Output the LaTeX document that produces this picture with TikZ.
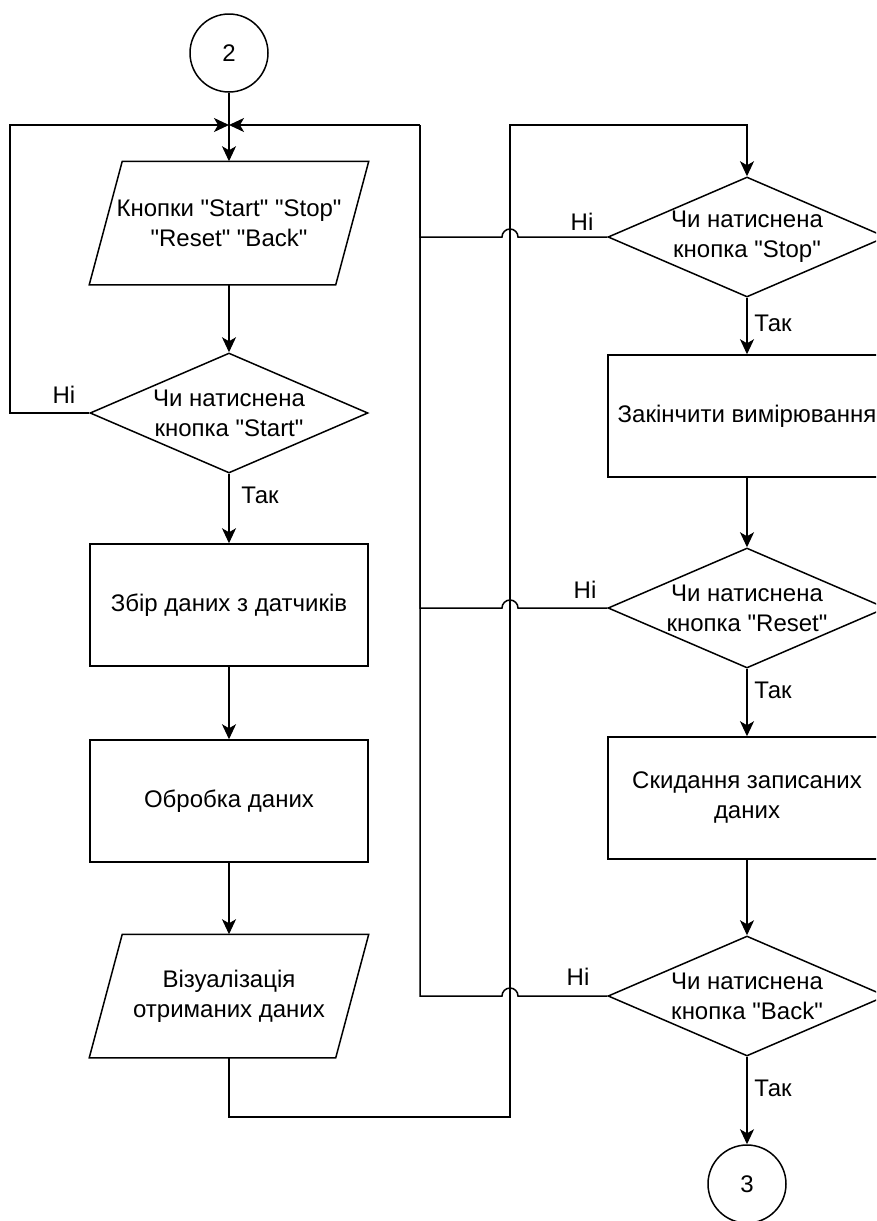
\documentclass[tikz,border=0pt]{standalone}
\usepackage{fontspec}
\setmainfont{Liberation Sans}[Ligatures=TeXOff]
\usetikzlibrary{shapes.geometric,arrows.meta}
\begin{document}
\begin{tikzpicture}[x=1pt,y=-1pt,line width=1.5pt,
  every node/.style={font=\fontsize{24}{30}\selectfont},
  proc/.style={draw,rectangle,minimum width=278pt,minimum height=122pt,align=center,inner sep=0pt},
  io/.style={rectangle,minimum width=278pt,minimum height=122pt,align=center,inner sep=0pt},
  decision/.style={draw,diamond,minimum width=278pt,minimum height=120pt,inner sep=0pt,
    label={[align=center,inner sep=0pt]center:#1}},
  connector/.style={draw,circle,minimum size=78pt,inner sep=0pt},
  lbl/.style={inner sep=0pt},
  arr/.style={-{Stealth[length=15pt,width=14pt,inset=4pt]}}]
\useasboundingbox (0,0) rectangle (876,1221);
\clip (0,0) rectangle (876,1221);

% left column
\node[connector] (c2) at (229,53) {2};
\node[io] (in1) at (229,223) {Кнопки "Start" "Stop"\\"Reset" "Back"};
\node[decision={Чи натиснена\\кнопка "Start"}] (dStart) at (229,413) {};
\node[proc] (p1) at (229,605) {Збір даних з датчиків};
\node[proc] (p2) at (229,801) {Обробка даних};
\node[io] (out1) at (229,996) {Візуалізація\\отриманих даних};

% data (parallelogram) outlines
\foreach \n in {in1,out1}
  \draw ([xshift=33pt]\n.north west) -- (\n.north east)
    -- ([xshift=-33pt]\n.south east) -- (\n.south west) -- cycle;

% right column
\node[decision={Чи натиснена\\кнопка "Stop"}] (dStop) at (747,237) {};
\node[proc] (p3) at (747,416) {Закінчити вимірювання};
\node[decision={Чи натиснена\\кнопка "Reset"}] (dReset) at (747,608) {};
\node[proc] (p4) at (747,798) {Скидання записаних\\даних};
\node[decision={Чи натиснена\\кнопка "Back"}] (dBack) at (747,996) {};
\node[connector] (c3) at (747,1184) {3};

% routing points
\coordinate (j) at (229,125);
\coordinate (lx) at (10,125);
\coordinate (rx) at (420,125);
\coordinate (bus) at (510,125);
\coordinate (bb) at (510,1117);

% main flow
\draw[arr] (c2.south) -- (in1.north);
\draw[arr] (in1.south) -- (dStart.north);
\draw[arr] (dStart.south) -- (p1.north);
\draw[arr] (p1.south) -- (p2.north);
\draw[arr] (p2.south) -- (out1.north);
\draw[arr] (out1.south) |- (bb) -- (bus) -| (dStop.north);
\draw[arr] (dStop.south) -- (p3.north);
\draw[arr] (p3.south) -- (dReset.north);
\draw[arr] (dReset.south) -- (p4.north);
\draw[arr] (p4.south) -- (dBack.north);
\draw[arr] (dBack.south) -- (c3.north);

% "no" branches
\draw[arr] (dStart.west) -| (lx) -- (j);
\draw[arr] (rx) -- (j);
\draw (dStop.west) -- ([xshift=8pt]dStop.west -| bus) arc[start angle=0,end angle=180,radius=8pt]
  -- (dStop.west -| rx) -- (rx);
\draw (dReset.west) -- ([xshift=8pt]dReset.west -| bus) arc[start angle=0,end angle=180,radius=8pt]
  -- (dReset.west -| rx) -- (rx);
\draw (dBack.west) -- ([xshift=8pt]dBack.west -| bus) arc[start angle=0,end angle=180,radius=8pt]
  -- (dBack.west -| rx) -- (rx);

% branch labels
\node[lbl] (nStart) at (64,395) {Ні};
\node[lbl] (yStart) at (260,495) {Так};
\node[lbl] (nStop) at (582,222) {Ні};
\node[lbl] (yStop) at (773,323) {Так};
\node[lbl] (nReset) at (585,590) {Ні};
\node[lbl] (yReset) at (773,690) {Так};
\node[lbl] (nBack) at (578,977) {Ні};
\node[lbl] (yBack) at (773,1088) {Так};
\end{tikzpicture}
\end{document}
